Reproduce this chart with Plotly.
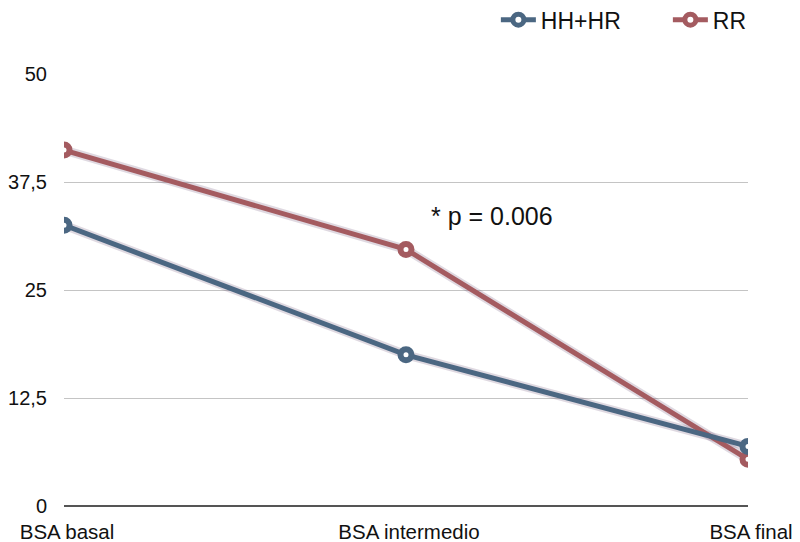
import plotly.graph_objects as go

categories = ["BSA basal", "BSA intermedio", "BSA final"]
hh_hr = [32.5, 17.5, 6.9]
rr = [41.2, 29.7, 5.4]
y_ticks = [0, 12.5, 25, 37.5, 50]
y_tick_labels = ["0", "12,5", "25", "37,5", "50"]

blue = "#4b6782"
red = "#a45b60"
shadow = "rgba(110,80,120,0.22)"

fig = go.Figure()
for series in (rr, hh_hr):
    fig.add_trace(go.Scatter(
        x=categories, y=series, mode="lines", showlegend=False, hoverinfo="skip",
        line=dict(color=shadow, width=9),
    ))
fig.add_trace(go.Scatter(
    x=categories, y=rr, name="RR", mode="lines+markers",
    line=dict(color=red, width=5),
    marker=dict(symbol="circle", size=11, color="white", line=dict(color=red, width=6)),
    legendrank=2,
))
fig.add_trace(go.Scatter(
    x=categories, y=hh_hr, name="HH+HR", mode="lines+markers",
    line=dict(color=blue, width=5),
    marker=dict(symbol="circle", size=11, color="white", line=dict(color=blue, width=6)),
    legendrank=1,
))

fig.add_annotation(x=1.251, y=33.6, xref="x", yref="y", text="* p = 0.006",
                   showarrow=False, font=dict(size=25, color="#111111"))

# page has an 8px body margin: figure is 792x534 so the plot lands where the reference has it
fig.update_layout(
    width=792, height=534,
    margin=dict(l=56, r=52, t=66, b=36, autoexpand=False),
    paper_bgcolor="white", plot_bgcolor="white",
    font=dict(family="Liberation Sans, Arial, sans-serif", size=20, color="#111111"),
    showlegend=True,
    legend=dict(orientation="h", xref="container", yref="container",
                x=0.616, xanchor="left", y=0.978, yanchor="middle",
                font=dict(size=23), itemwidth=35, entrywidth=122,
                traceorder="normal", bgcolor="rgba(0,0,0,0)"),
    xaxis=dict(type="category", range=[0, 2], showgrid=False, zeroline=False,
               showline=False, ticks="", ticklabelstandoff=11, ticklabelshift=3,
               ticklabeloverflow="allow", tickfont=dict(size=20.5), automargin=False),
    yaxis=dict(range=[0, 50], tickvals=y_ticks, ticktext=y_tick_labels,
               showgrid=True, gridcolor="#c4c4c4", gridwidth=1,
               zeroline=True, zerolinecolor="#555555", zerolinewidth=1.5,
               showline=False, ticks="", ticklabelstandoff=16, automargin=False),
)

fig.write_html("out.html")
